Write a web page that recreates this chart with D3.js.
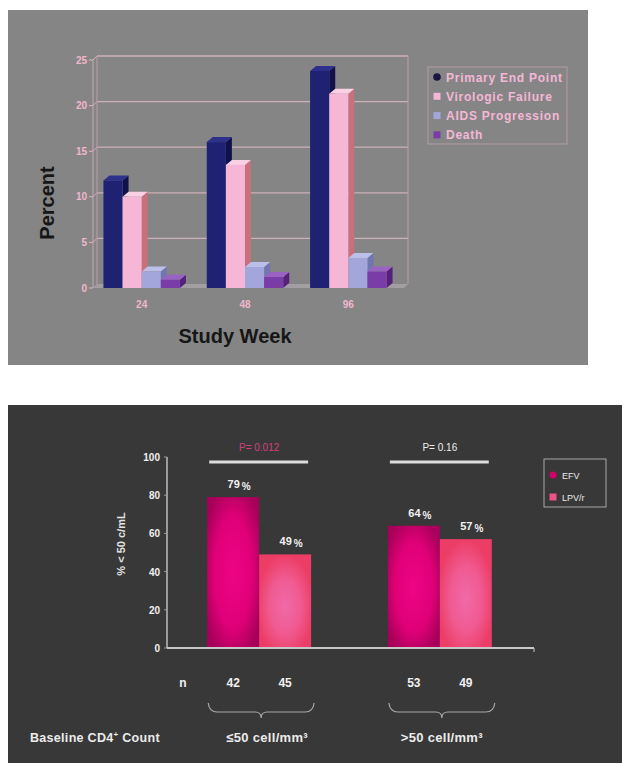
<!DOCTYPE html>
<html><head><meta charset="utf-8">
<script src="https://cdn.jsdelivr.net/npm/d3@7"></script>
<style>html,body{margin:0;padding:0;background:#fff;}svg{display:block;font-family:Arial,"Liberation Sans",sans-serif;}</style>
</head><body>
<svg id="c" width="631" height="763"></svg>
<script>
// ---------- Top chart data ----------
const weeks = ["24", "48", "96"];
const seriesNames = ["Primary End Point", "Virologic Failure", "AIDS Progression", "Death"];
const primaryEndPoint = [11.8, 16, 23.8];
const virologicFailure = [10, 13.5, 21.3];
const aidsProgression = [1.8, 2.3, 3.3];
const deathValues = [0.9, 1.2, 1.8];
const topTicks = [0, 5, 10, 15, 20, 25];

// ---------- Bottom chart data ----------
const cd4Groups = ["≤50 cell/mm³", ">50 cell/mm³"];
const arms = ["EFV", "LPV/r"];
const efvValues = [79, 64];
const lpvValues = [49, 57];
const efvN = [42, 53];
const lpvN = [45, 49];
const pLabels = ["P= 0.012", "P= 0.16"];
const bottomTicks = [0, 20, 40, 60, 80, 100];

const svg = d3.select("#c");

// ================= TOP PANEL =================
svg.append("rect").attr("x", 8).attr("y", 10).attr("width", 580).attr("height", 355).attr("fill", "#858585");

const seriesVals = [primaryEndPoint, virologicFailure, aidsProgression, deathValues];
const front = ["#1f2272", "#f6b6d6", "#a3a6da", "#7a3ca6"];
const topC = ["#2e318c", "#fad0e4", "#bcbfe8", "#9a62c2"];
const sideC = ["#10114a", "#c8707c", "#7276b0", "#54207a"];
const dx = 6, dy = -5;

const yT = d3.scaleLinear().domain([0, 25]).range([288, 60]);
const xT = d3.scaleBand().domain(weeks).range([90, 400]).paddingInner(0.26).paddingOuter(0.13);
const xS = d3.scaleBand().domain(seriesNames).range([0, xT.bandwidth()]);

const axL = 93, axR = 404;
const gT = svg.append("g");
// back wall gridlines
topTicks.forEach(t => {
  if (t === 0) return;
  gT.append("line").attr("x1", axL + 4).attr("x2", axR + 4).attr("y1", yT(t) - 4).attr("y2", yT(t) - 4)
    .attr("stroke", "#cdb0b8").attr("stroke-width", 1.3);
  gT.append("line").attr("x1", axL).attr("x2", axL + 4).attr("y1", yT(t)).attr("y2", yT(t) - 4)
    .attr("stroke", "#cdb0b8").attr("stroke-width", 1);
});
gT.append("line").attr("x1", axL + 4).attr("x2", axL + 4).attr("y1", yT(25) - 4).attr("y2", yT(0) - 4).attr("stroke", "#b8a0a8").attr("stroke-width", 1);
gT.append("line").attr("x1", axR + 4).attr("x2", axR + 4).attr("y1", yT(25) - 4).attr("y2", yT(0) - 4).attr("stroke", "#b8a0a8").attr("stroke-width", 1);
// floor
gT.append("polygon").attr("points", [[axL, yT(0)], [axR, yT(0)], [axR + 4, yT(0) - 4], [axL + 4, yT(0) - 4]].map(p => p.join(",")).join(" "))
  .attr("fill", "#a39ea2");
gT.append("line").attr("x1", axL).attr("x2", axL).attr("y1", yT(25)).attr("y2", yT(0)).attr("stroke", "#c8a8b4").attr("stroke-width", 1);
topTicks.forEach(t => {
  gT.append("line").attr("x1", axL - 4).attr("x2", axL).attr("y1", yT(t)).attr("y2", yT(t)).attr("stroke", "#e8b0c4");
  gT.append("text").attr("x", axL - 6).attr("y", yT(t) + 3.5).attr("text-anchor", "end")
    .attr("font-size", 10).attr("font-weight", "bold").attr("fill", "#f2b6cc").text(t);
});

weeks.forEach((w, gi) => {
  seriesNames.forEach((s, si) => {
    const v = seriesVals[si][gi];
    const x = xT(w) + xS(s), bw = xS.bandwidth();
    const y0 = yT(0), y1 = yT(v);
    gT.append("polygon").attr("points", [[x + bw, y1], [x + bw + dx, y1 + dy], [x + bw + dx, y0 + dy], [x + bw, y0]].map(p => p.join(",")).join(" "))
      .attr("fill", sideC[si]);
    gT.append("polygon").attr("points", [[x, y1], [x + dx, y1 + dy], [x + bw + dx, y1 + dy], [x + bw, y1]].map(p => p.join(",")).join(" "))
      .attr("fill", topC[si]);
    gT.append("rect").attr("x", x).attr("y", y1).attr("width", bw).attr("height", y0 - y1).attr("fill", front[si]);
  });
  gT.append("text").attr("x", xT(w) + xT.bandwidth() / 2).attr("y", 308).attr("text-anchor", "middle")
    .attr("font-size", 10).attr("font-weight", "bold").attr("fill", "#f2b6cc").text(w);
});

gT.append("text").attr("x", 235).attr("y", 343).attr("text-anchor", "middle").attr("font-size", 20)
  .attr("font-weight", "bold").attr("fill", "#161616").text("Study Week");
gT.append("text").attr("transform", "translate(54,203) rotate(-90)").attr("text-anchor", "middle").attr("font-size", 20)
  .attr("font-weight", "bold").attr("fill", "#161616").text("Percent");

// legend
const lgT = gT.append("g");
lgT.append("rect").attr("x", 428).attr("y", 67).attr("width", 139).attr("height", 77).attr("fill", "none").attr("stroke", "#b49aa6").attr("stroke-width", 1);
seriesNames.forEach((s, i) => {
  const ly = 77 + i * 19.3;
  if (i === 0) lgT.append("circle").attr("cx", 437).attr("cy", ly).attr("r", 3.8).attr("fill", "#1a1640");
  else lgT.append("rect").attr("x", 433.5).attr("y", ly - 3.5).attr("width", 7).attr("height", 7).attr("fill", front[i]);
  lgT.append("text").attr("x", 446).attr("y", ly + 4.5).attr("font-size", 12).attr("font-weight", "bold")
    .attr("letter-spacing", 0.75).attr("fill", "#f4b8d6").text(s);
});

// ================= BOTTOM PANEL =================
svg.append("rect").attr("x", 8).attr("y", 405).attr("width", 614).attr("height", 358).attr("fill", "#383838");
const defs = svg.append("defs");
const g1 = defs.append("radialGradient").attr("id", "gEFV").attr("cx", "50%").attr("cy", "50%").attr("r", "60%");
g1.append("stop").attr("offset", "0%").attr("stop-color", "#ee0484");
g1.append("stop").attr("offset", "60%").attr("stop-color", "#e00078");
g1.append("stop").attr("offset", "100%").attr("stop-color", "#a8005a");
const g2 = defs.append("radialGradient").attr("id", "gLPV").attr("cx", "50%").attr("cy", "55%").attr("r", "55%");
g2.append("stop").attr("offset", "0%").attr("stop-color", "#f06aa8");
g2.append("stop").attr("offset", "55%").attr("stop-color", "#f05a90");
g2.append("stop").attr("offset", "100%").attr("stop-color", "#ec3d66");
const fills = ["url(#gEFV)", "url(#gLPV)"];

const yB = d3.scaleLinear().domain([0, 100]).range([648, 457]);
const xB = d3.scaleBand().domain(cd4Groups).range([153, 546]).paddingInner(0.425).paddingOuter(0.3);
const xA = d3.scaleBand().domain(arms).range([0, xB.bandwidth()]);
const gB = svg.append("g");

gB.append("line").attr("x1", 167).attr("x2", 167).attr("y1", yB(100)).attr("y2", yB(0)).attr("stroke", "#bdbdbd").attr("stroke-width", 1.5);
bottomTicks.forEach(t => {
  gB.append("line").attr("x1", 164).attr("x2", 167).attr("y1", yB(t)).attr("y2", yB(t)).attr("stroke", "#9a9a9a");
  gB.append("text").attr("x", 160).attr("y", yB(t) + 4).attr("text-anchor", "end").attr("font-size", 10)
    .attr("font-weight", "bold").attr("fill", "#f0f0f0").text(t);
});
gB.append("text").attr("transform", "translate(125,544) rotate(-90)").attr("text-anchor", "middle")
  .attr("font-size", 11).attr("font-weight", "bold").attr("fill", "#e4e4e4").text("% < 50 c/mL");

const valsB = [efvValues, lpvValues];
const nB = [efvN, lpvN];
cd4Groups.forEach((g, gi) => {
  const gx = xB(g);
  arms.forEach((a, ai) => {
    const v = valsB[ai][gi];
    const x = gx + xA(a), bw = xA.bandwidth();
    gB.append("rect").attr("x", x).attr("y", yB(v)).attr("width", bw).attr("height", yB(0) - yB(v)).attr("fill", fills[ai]);
    const t = gB.append("text").attr("x", x + bw / 2 + 6).attr("y", yB(v) - 9).attr("text-anchor", "middle")
      .attr("font-size", 11).attr("font-weight", "bold").attr("fill", "#f2f2f2");
    t.append("tspan").text(v);
    t.append("tspan").attr("font-size", 10).attr("dx", 2).attr("dy", 2).text("%");
    gB.append("text").attr("x", x + bw / 2).attr("y", 687).attr("text-anchor", "middle").attr("font-size", 12)
      .attr("font-weight", "bold").attr("fill", "#f0f0f0").text(nB[ai][gi]);
  });
  const bw = xB.bandwidth();
  gB.append("line").attr("x1", gx + 2).attr("x2", gx + bw - 3).attr("y1", 462).attr("y2", 462).attr("stroke", "#dcdcdc").attr("stroke-width", 3);
  gB.append("text").attr("x", gx + bw / 2).attr("y", 451).attr("text-anchor", "middle").attr("font-size", 10)
    .attr("fill", gi === 0 ? "#d2407e" : "#ececec").text(pLabels[gi]);
  const x0 = gx + 1, x1 = gx + bw + 3, cx = (x0 + x1) / 2, yb = 703;
  gB.append("path").attr("d", `M${x0},${yb} Q${x0 + 1},${yb + 9} ${x0 + 9},${yb + 9} L${cx - 6},${yb + 9} Q${cx},${yb + 9} ${cx},${yb + 15} Q${cx},${yb + 9} ${cx + 6},${yb + 9} L${x1 - 9},${yb + 9} Q${x1 - 1},${yb + 9} ${x1},${yb}`)
    .attr("fill", "none").attr("stroke", "#a8a8a8").attr("stroke-width", 1.2);
  gB.append("text").attr("x", cx + (gi === 0 ? 6 : 0)).attr("y", 742).attr("text-anchor", "middle").attr("font-size", 13)
    .attr("font-weight", "bold").attr("letter-spacing", 0.3).attr("fill", "#ececec").text(g);
});
gB.append("line").attr("x1", 167).attr("x2", 534).attr("y1", yB(0)).attr("y2", yB(0)).attr("stroke", "#c8c8c8").attr("stroke-width", 2);
gB.append("line").attr("x1", 534).attr("x2", 534).attr("y1", yB(0)).attr("y2", yB(0) + 4).attr("stroke", "#c8c8c8").attr("stroke-width", 1);
gB.append("text").attr("x", 183).attr("y", 687).attr("text-anchor", "middle").attr("font-size", 12)
  .attr("font-weight", "bold").attr("fill", "#f0f0f0").text("n");
const bl = gB.append("text").attr("x", 30).attr("y", 742).attr("font-size", 12.5).attr("font-weight", "bold")
  .attr("letter-spacing", 0.3).attr("fill", "#ececec");
bl.append("tspan").text("Baseline CD4");
bl.append("tspan").attr("font-size", 8).attr("dy", -5).text("+");
bl.append("tspan").attr("dy", 5).text(" Count");

const lgB = gB.append("g");
lgB.append("rect").attr("x", 544).attr("y", 459).attr("width", 62).attr("height", 48).attr("fill", "none").attr("stroke", "#a8a8a8").attr("stroke-width", 1);
lgB.append("circle").attr("cx", 553).attr("cy", 475).attr("r", 3.5).attr("fill", "#d4006c");
lgB.append("rect").attr("x", 549.5).attr("y", 493.5).attr("width", 7).attr("height", 7).attr("fill", "#f0508a");
lgB.append("text").attr("x", 562).attr("y", 478.5).attr("font-size", 9).attr("fill", "#e8e8e8").text(arms[0]);
lgB.append("text").attr("x", 562).attr("y", 500.5).attr("font-size", 9).attr("fill", "#e8e8e8").text(arms[1]);
</script>
</body></html>
